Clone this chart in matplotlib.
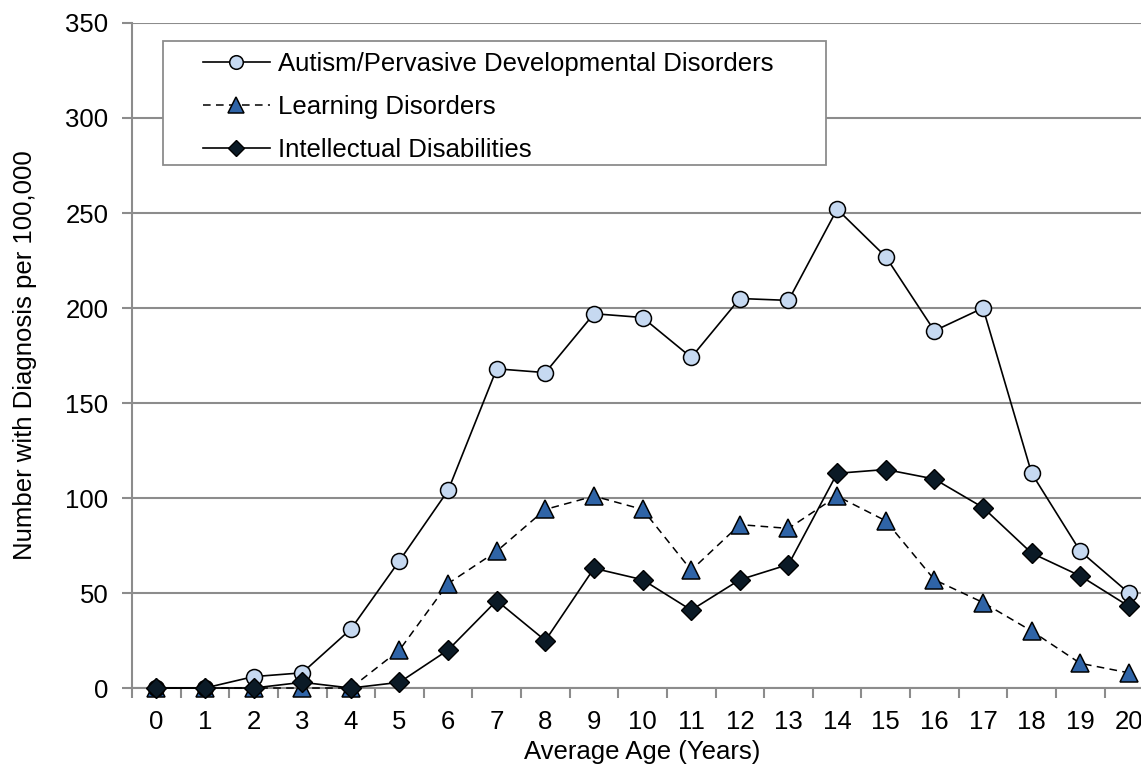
import matplotlib.pyplot as plt
from matplotlib.patches import Rectangle
import numpy as np

plt.rcParams['font.family'] = ['Liberation Sans', 'DejaVu Sans']

ages = list(range(0, 21))
autism = [0, 0, 6, 8, 31, 67, 104, 168, 166, 197, 195, 174, 205, 204, 252, 227, 188, 200, 113, 72, 50]
learning = [0, 0, 0, 0, 0, 20, 55, 72, 94, 101, 94, 62, 86, 84, 101, 88, 57, 45, 30, 13, 8]
intellectual = [0, 0, 0, 3, 0, 3, 20, 46, 25, 63, 57, 41, 57, 65, 113, 115, 110, 95, 71, 59, 43]

fs = 18.5
grid_c = "#8c8c8c"

fig = plt.figure(figsize=(11.41, 7.69), dpi=100)
ax = fig.add_axes([0.1157, 0.1053, 0.895, 0.8648])

ax.plot(ages, autism, "-o", color="black", lw=1.2, ms=11.5, mfc="#c6d9f1", mec="black", mew=1.1,
        label="Autism/Pervasive Developmental Disorders", clip_on=False, zorder=4)
ax.plot(ages, learning, "--^", color="black", lw=1.1, dashes=(5, 3.5), ms=13, mfc="#2f64a7", mec="black",
        mew=1.1, label="Learning Disorders", clip_on=False, zorder=3)
ax.plot(ages, intellectual, "-D", color="black", lw=1.2, ms=10, mfc="#0b1a26", mec="black", mew=1.0,
        label="Intellectual Disabilities", clip_on=False, zorder=5)

ax.set_xlim(-0.5, 20.5)
ax.set_ylim(0, 350)
ax.set_yticks(np.arange(0, 351, 50))
ax.yaxis.grid(True, color=grid_c, lw=1.5)
ax.set_axisbelow(True)

ax.set_xticks(np.arange(-0.5, 21, 1))
ax.set_xticklabels([])
ax.set_xticks(ages, minor=True)
ax.set_xticklabels([str(a) for a in ages], minor=True)
ax.tick_params(axis="x", which="major", length=7, width=1.5, color=grid_c)
ax.tick_params(axis="x", which="minor", length=0, pad=15.5, labelsize=fs)
ax.tick_params(axis="y", length=7, width=1.5, color=grid_c, labelsize=fs, pad=10)

for s in ["top", "right"]:
    ax.spines[s].set_visible(False)
for s in ["left", "bottom"]:
    ax.spines[s].set_color(grid_c)
    ax.spines[s].set_linewidth(1.5)

ax.set_xlabel("Average Age (Years)", fontsize=fs, labelpad=5)
ax.set_ylabel("Number with Diagnosis per 100,000", fontsize=fs, labelpad=20)

# legend box drawn separately so the padding matches
box = Rectangle((0.0303, 0.7865), 0.6497, 0.1865, transform=ax.transAxes, facecolor="white",
                edgecolor=grid_c, lw=1.3, zorder=2.5)
ax.add_patch(box)
leg = ax.legend(loc="upper left", bbox_to_anchor=(0.0695, 0.956), borderaxespad=0, borderpad=0,
                fontsize=fs, frameon=False, handlelength=2.6, handletextpad=0.31, labelspacing=0.74,
                markerscale=0.85)

plt.savefig("out.png", dpi=100)
